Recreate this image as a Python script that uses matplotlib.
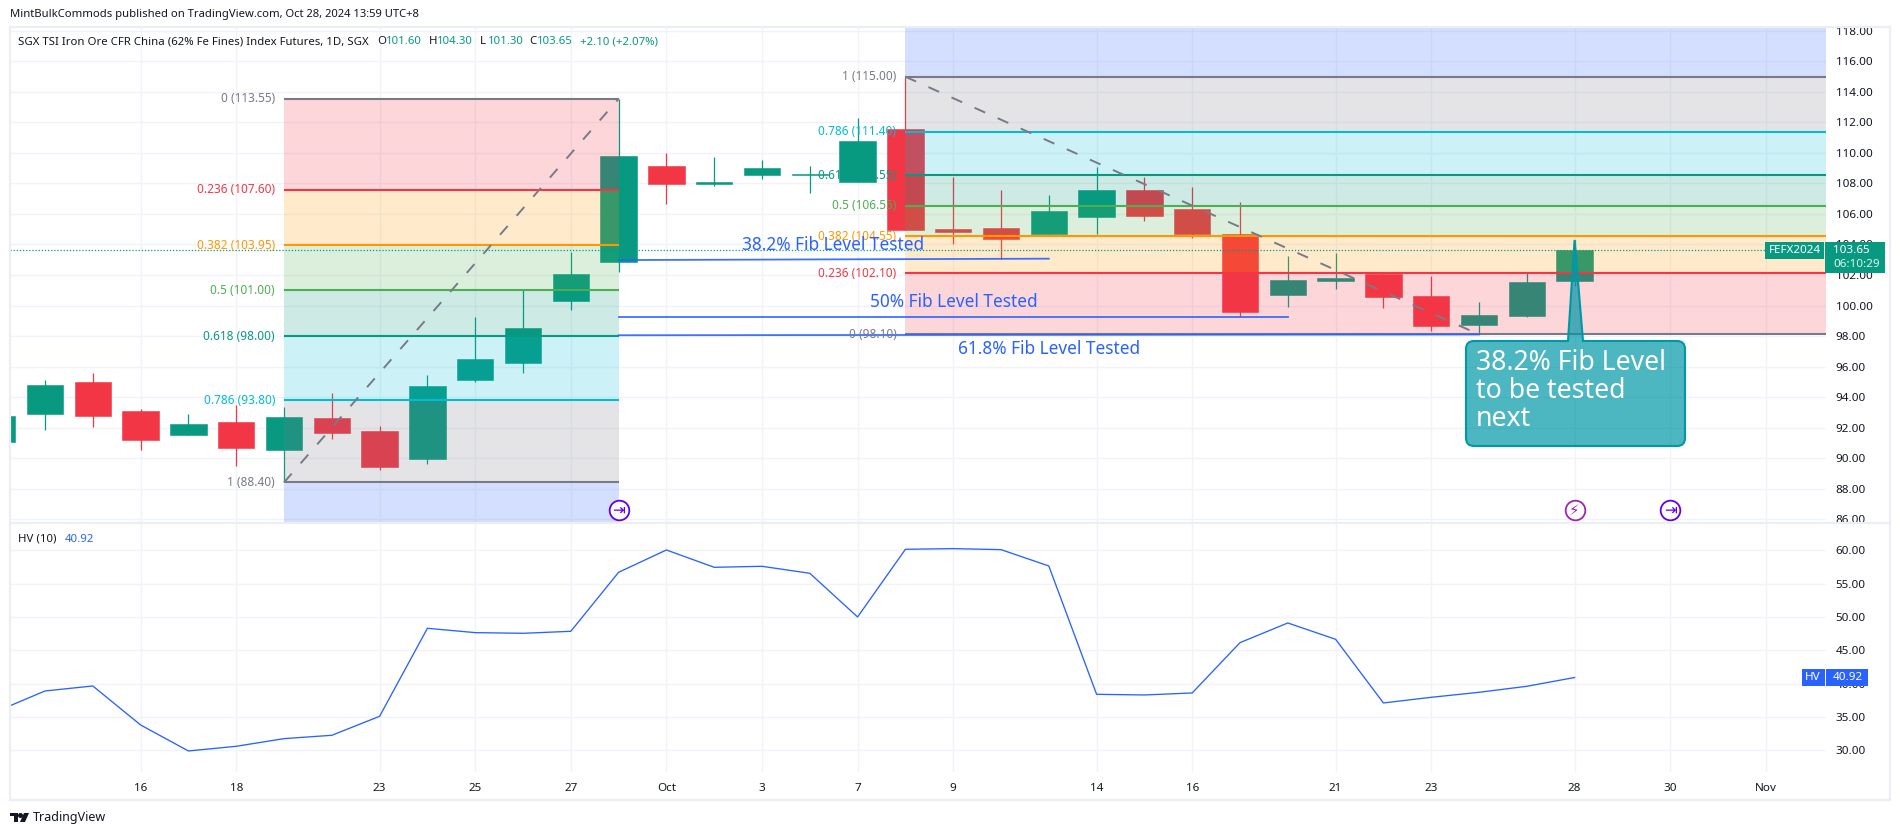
from __future__ import annotations

import matplotlib

matplotlib.use("Agg")

import matplotlib.pyplot as plt
from matplotlib.lines import Line2D
from matplotlib.patches import PathPatch, Polygon, Rectangle
from matplotlib.path import Path

plt.rcParams["font.family"] = ["Noto Sans", "DejaVu Sans"]

W, H = 1900, 835

# bar index 0 is 16 Sep; bars are spaced by trading day
first_bar = -3
opens = [91.06, 92.87, 94.98, 93.07, 91.50, 92.36, 90.52, 92.60, 91.76, 89.92, 95.11,
         96.22, 100.28, 102.85, 109.14, 107.97, 108.55, 108.57, 108.10, 111.56, 105.02,
         105.07, 104.69, 105.80, 107.57, 106.33, 104.69, 100.68, 101.61, 102.05, 100.61,
         98.70, 99.30, 101.60]
highs = [92.90, 95.11, 95.56, 93.20, 92.87, 93.47, 93.33, 94.25, 92.09, 95.44, 99.23,
         101.08, 103.52, 113.55, 109.99, 109.75, 109.55, 109.15, 112.30, 115.00, 108.42,
         107.57, 107.24, 109.08, 108.42, 107.77, 106.77, 103.25, 103.45, 102.05, 101.92,
         100.23, 102.19, 104.30]
lows = [90.90, 91.83, 92.01, 90.52, 91.50, 89.46, 88.40, 91.23, 89.21, 89.59, 94.98,
        95.56, 99.70, 102.19, 106.64, 107.84, 108.28, 107.37, 108.10, 104.96, 104.03,
        103.07, 104.69, 104.69, 105.53, 104.43, 99.30, 99.90, 101.08, 99.85, 98.33,
        98.10, 99.23, 101.30]
closes = [92.74, 94.78, 92.74, 91.17, 92.23, 90.65, 92.67, 91.63, 89.39, 94.71, 96.48,
          98.52, 102.05, 109.78, 107.97, 108.10, 109.01, 108.59, 110.79, 104.96, 104.82,
          104.36, 106.20, 107.57, 105.86, 104.69, 99.57, 101.67, 101.81, 100.55, 98.66,
          99.37, 101.55, 103.65]
hv_values = [35.87, 38.90, 39.65, 33.80, 29.90, 30.60, 31.75, 32.25, 35.10, 48.30, 47.65,
             47.55, 47.85, 56.70, 60.05, 57.45, 57.60, 56.55, 50.00, 60.15, 60.25,
             60.10, 57.65, 38.40, 38.30, 38.60, 46.15, 49.10, 46.65, 37.10, 37.95,
             38.70, 39.60, 40.92]

date_ticks = [0, 2, 5, 7, 9, 11, 13, 15, 17, 20, 22, 25, 27, 30, 32, 34]
date_labels = ["16", "18", "23", "25", "27", "Oct", "3", "7", "9", "14", "16", "21", "23", "28", "30", "Nov"]

price_ticks = list(range(86, 120, 2))
hv_ticks = list(range(30, 65, 5))

# fib retracement levels, top to bottom
fib_names = ["0", "0.236", "0.382", "0.5", "0.618", "0.786", "1"]
fib_colors = ["#787B86", "#F23645", "#FF9800", "#4CAF50", "#089981", "#00BCD4", "#787B86"]
fib_fill_colors = ["#F23645", "#FF9800", "#4CAF50", "#089981", "#00BCD4", "#787B86", "#2962FF"]
fib_up_levels = [113.55, 107.60, 103.95, 101.00, 98.00, 93.80, 88.40]
fib_down_levels = [98.10, 102.10, 104.55, 106.55, 108.55, 111.40, 115.00]

GREEN = "#089981"
RED = "#F23645"
BLUE = "#2962FF"
GRID = "#F0F3FA"
TEXT = "#131722"

PLOT_L, PLOT_R = 10, 1826
BAR0_PX, BAR_PX = 140.6, 47.8


def fx(x):
    return x / W


def fy(y):
    return 1 - y / H


def px_text(fig, x, y, s, **kw):
    kw.setdefault("va", "center")
    kw.setdefault("color", TEXT)
    kw.setdefault("zorder", 8)
    fig.text(fx(x), fy(y), s, **kw)


def px_rect(fig, x0, y0, x1, y1, color):
    fig.add_artist(Rectangle((fx(x0), fy(y1)), fx(x1 - x0), (y1 - y0) / H, transform=fig.transFigure,
                             facecolor=color, edgecolor="none", zorder=7))


def px_poly(fig, pts, color):
    fig.add_artist(Polygon([(fx(x), fy(y)) for x, y in pts], closed=True, transform=fig.transFigure,
                           facecolor=color, edgecolor="none", zorder=7))


def draw_fib(ax, x0, x1, levels):
    for i in range(len(levels) - 1):
        ax.fill_between([x0, x1], levels[i], levels[i + 1], color=fib_fill_colors[i], alpha=0.2, lw=0, zorder=3)
    # the last band runs on past the pane
    edge = ax.get_ylim()[1] if levels[-1] > levels[0] else ax.get_ylim()[0]
    ax.fill_between([x0, x1], levels[-1], edge, color=fib_fill_colors[-1], alpha=0.2, lw=0, zorder=3)
    for name, color, level in zip(fib_names, fib_colors, levels):
        ax.plot([x0, x1], [level, level], color=color, lw=1.5, zorder=4, solid_capstyle="butt")
        ax.annotate(f"{name} ({level:.2f})", (x0, level), xytext=(-6.5, 0), textcoords="offset points",
                    ha="right", va="center", color=color, fontsize=8.5, zorder=7)


def main() -> int:
    fig = plt.figure(figsize=(W / 100, H / 100), dpi=100, facecolor="white")

    ax = fig.add_axes([fx(PLOT_L), fy(523.3), fx(PLOT_R - PLOT_L), (523.3 - 27) / H])
    ax_hv = fig.add_axes([fx(PLOT_L), fy(771.7), fx(PLOT_R - PLOT_L), (771.7 - 523.3) / H], sharex=ax)

    ax.set_xlim((PLOT_L - BAR0_PX) / BAR_PX, (PLOT_R - BAR0_PX) / BAR_PX)
    ax.set_ylim(85.72, 118.26)
    ax_hv.set_ylim(26.79, 64.05)

    for a in (ax, ax_hv):
        for spine in a.spines.values():
            spine.set_visible(False)
        a.yaxis.tick_right()
        a.grid(True, color=GRID, lw=1.0, zorder=0)
        a.set_axisbelow(True)
        a.tick_params(axis="y", length=0, pad=7, labelsize=8.4, labelcolor=TEXT)
        a.tick_params(axis="x", length=0)

    ax.set_yticks(price_ticks, [f"{t:.2f}" for t in price_ticks])
    ax_hv.set_yticks(hv_ticks, [f"{t:.2f}" for t in hv_ticks])
    ax.tick_params(axis="x", labelbottom=False)
    ax_hv.set_xticks(date_ticks, date_labels)
    ax_hv.tick_params(axis="x", pad=8, labelsize=8.4, labelcolor=TEXT)

    # candles
    bars = list(range(first_bar, first_bar + len(opens)))
    colors = [GREEN if c >= o else RED for o, c in zip(opens, closes)]
    ax.vlines(bars, lows, highs, colors=colors, lw=0.9, zorder=2)
    ax.bar(bars, [abs(c - o) for o, c in zip(opens, closes)], bottom=[min(o, c) for o, c in zip(opens, closes)],
           width=0.76, color=colors, edgecolor=colors, lw=0.4, zorder=2)

    # fib drawings
    draw_fib(ax, 3, 10, fib_up_levels)
    draw_fib(ax, 16, ax.get_xlim()[1], fib_down_levels)
    dash = (0, (6, 7))
    ax.plot([3, 10], [fib_up_levels[-1], fib_up_levels[0]], color="#787B86", lw=1.4, ls=dash, zorder=5)
    ax.plot([16, 28], [fib_down_levels[-1], fib_down_levels[0]], color="#787B86", lw=1.4, ls=dash, zorder=5)

    # last price line
    ax.axhline(closes[-1], color=GREEN, lw=0.9, ls=(0, (1, 1.5)), zorder=5)

    # hand drawn test levels
    ax.plot([10, 19], [102.98, 103.07], color=BLUE, lw=1.3, alpha=0.9, zorder=4)
    ax.plot([10, 24], [99.23, 99.23], color=BLUE, lw=1.3, alpha=0.9, zorder=4)
    ax.plot([10, 28], [98.05, 98.10], color=BLUE, lw=1.3, alpha=0.9, zorder=4)
    px_text(fig, 742, 245, "38.2% Fib Level Tested", color=BLUE, fontsize=12.4)
    px_text(fig, 870, 302, "50% Fib Level Tested", color=BLUE, fontsize=12.4)
    px_text(fig, 958, 349, "61.8% Fib Level Tested", color=BLUE, fontsize=12.4)

    # event icons along the bottom of the price pane
    trans = ax.get_xaxis_transform()
    for x, color, glyph in [(10, "#6200EA", "\u21e5"), (30, "#9C27B0", "\u26a1"), (32, "#6200EA", "\u21e5")]:
        ax.scatter([x], [0.026], s=200, facecolor="white", edgecolor=color, lw=1.3, transform=trans, zorder=7)
        ax.text(x, 0.026, glyph, color=color, fontsize=11, ha="center", va="center", transform=trans, zorder=8,
                family="DejaVu Sans")

    # HV pane
    ax_hv.plot(bars, hv_values, color=BLUE, lw=0.95, zorder=3)

    # callout
    tip_x, tip_y = ax.transData.transform((30, highs[-1]))
    tip_y = H - tip_y
    x0, y0, x1, y1, r = 1466, 341, 1685, 446, 8
    b0, b1 = 1568, 1583
    verts = [(x0 + r, y0), (b0, y0), (tip_x, tip_y), (b1, y0), (x1 - r, y0), (x1, y0), (x1, y0 + r), (x1, y1 - r),
             (x1, y1), (x1 - r, y1), (x0 + r, y1), (x0, y1), (x0, y1 - r), (x0, y0 + r), (x0, y0), (x0 + r, y0),
             (x0 + r, y0)]
    codes = [Path.MOVETO, Path.LINETO, Path.LINETO, Path.LINETO, Path.LINETO, Path.CURVE3, Path.CURVE3, Path.LINETO,
             Path.CURVE3, Path.CURVE3, Path.LINETO, Path.CURVE3, Path.CURVE3, Path.LINETO, Path.CURVE3, Path.CURVE3,
             Path.CLOSEPOLY]
    fig.add_artist(PathPatch(Path([(fx(a), fy(b)) for a, b in verts], codes), transform=fig.transFigure,
                             facecolor=(0 / 255, 151 / 255, 167 / 255, 0.7), edgecolor="#0097A7", lw=1.5, zorder=6))
    px_text(fig, 1476, 391, "38.2% Fib Level\nto be tested\nnext", color="white", fontsize=19.2, linespacing=0.98)

    # pane frame
    for xs, ys in [((10, 10), (27, 800)), ((10, 1890), (27, 27)), ((10, 1890), (800, 800)), ((1890, 1890), (27, 800)),
                   ((10, 1890), (523.3, 523.3))]:
        fig.add_artist(Line2D([fx(v) for v in xs], [fy(v) for v in ys], color="#ECEEF3", lw=1.6, zorder=5))

    # price tags
    px_rect(fig, 1765, 242, 1824, 258.5, GREEN)
    px_rect(fig, 1825, 242, 1885, 273, GREEN)
    px_text(fig, 1769, 250.5, "FEFX2024", color="white", fontsize=8.4)
    px_text(fig, 1833, 250.5, f"{closes[-1]:.2f}", color="white", fontsize=8.4)
    px_text(fig, 1833, 264.5, "06:10:29", color="#DDF2EE", fontsize=8.4)
    px_rect(fig, 1801.5, 669, 1824.5, 685.7, BLUE)
    px_rect(fig, 1825.5, 669, 1868, 685.7, BLUE)
    px_text(fig, 1805, 677, "HV", color="white", fontsize=8.4)
    px_text(fig, 1833, 677, f"{hv_values[-1]:.2f}", color="white", fontsize=8.4)

    # header and legends
    px_text(fig, 10, 15, "MintBulkCommods published on TradingView.com, Oct 28, 2024 13:59 UTC+8", fontsize=8.1)
    px_text(fig, 18, 42, "SGX TSI Iron Ore CFR China (62% Fe Fines) Index Futures, 1D, SGX", fontsize=8.2)
    for x, label, value in [(377.5, "O", "101.60"), (428.5, "H", "104.30"), (480, "L", "101.30"), (529, "C", "103.65")]:
        px_text(fig, x, 42, label, fontsize=8.2)
        px_text(fig, x + 8, 42, value, color=GREEN, fontsize=8.2)
    px_text(fig, 579.5, 42, "+2.10 (+2.07%)", color=GREEN, fontsize=8.2)
    px_text(fig, 18, 539, "HV (10)", fontsize=8.2)
    px_text(fig, 65, 539, "40.92", color=BLUE, fontsize=8.2)

    # footer logo
    px_poly(fig, [(10, 813), (18, 813), (18, 822), (14, 822), (14, 816), (10, 816)], TEXT)
    px_poly(fig, [(24, 813), (29, 813), (25, 822), (20, 822)], TEXT)
    fig.add_artist(Line2D([fx(20)], [fy(814.5)], marker="o", ms=2.6, color=TEXT, transform=fig.transFigure, zorder=7))
    px_text(fig, 33, 817, "TradingView", fontsize=9)

    fig.savefig("out.png", dpi=100, facecolor="white")
    plt.close(fig)
    return 0


if __name__ == "__main__":
    raise SystemExit(main())
